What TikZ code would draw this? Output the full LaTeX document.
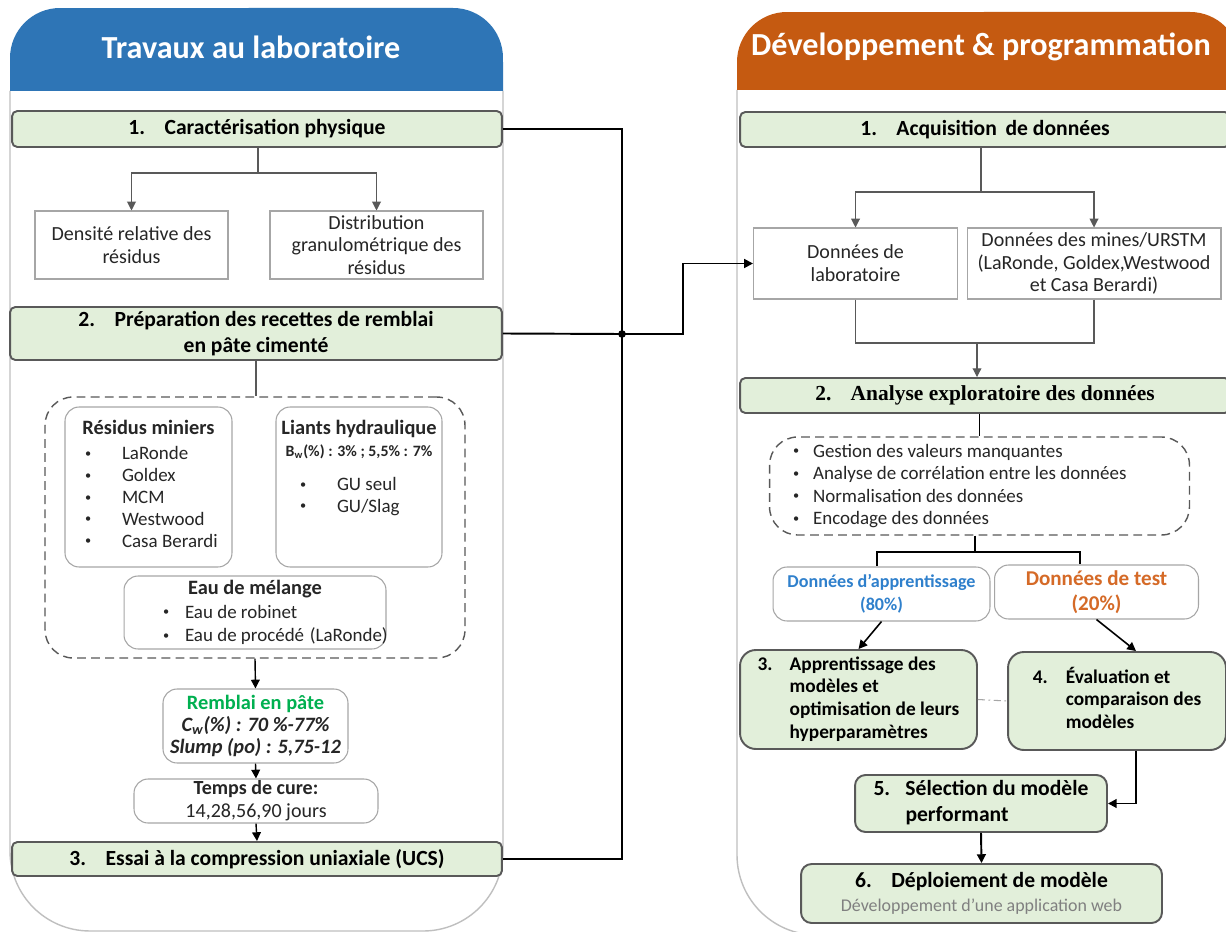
\documentclass[tikz,border=0pt]{standalone}
\usepackage{fontspec}
\setmainfont{Carlito}
\newfontfamily\timesfont{Liberation Serif}
\usetikzlibrary{positioning}
\usetikzlibrary{arrows.meta}
\definecolor{hblue}{HTML}{2E75B6}
\definecolor{horange}{HTML}{C55A11}
\definecolor{stepfill}{HTML}{E2EFDA}
\definecolor{stepline}{HTML}{595959}
\definecolor{boxline}{HTML}{A6A6A6}
\definecolor{panelline}{HTML}{BFBFBF}
\definecolor{txt}{HTML}{262626}
\definecolor{rgreen}{HTML}{00B050}
\definecolor{tblue}{HTML}{2F80CC}
\definecolor{torange}{HTML}{D56A27}
\newcommand{\mybullet}[1]{\makebox[#1][l]{\raisebox{0.25ex}{\fontsize{7}{7}\selectfont\textbullet}}}
\tikzset{
    mytitle/.style = {text=white, font=\fontsize{18.3}{22}\selectfont\bfseries},
    mystep/.style = {rectangle, rounded corners=3pt, line width=1.1pt, draw=stepline, fill=stepfill, align=center, font=\fontsize{12.3}{14.5}\selectfont\bfseries, text=black, inner sep=0pt},
    mybox/.style = {rectangle, draw=boxline, line width=0.6pt, fill=white, align=center, font=\fontsize{11.4}{13}\selectfont, text=txt, inner sep=0pt},
    myround/.style = {mybox, rounded corners=8pt},
    mydash/.style = {rectangle, rounded corners=16pt, dash pattern=on 5pt off 3pt, draw=stepline, line width=0.8pt, inner sep=0pt},
    edgen/.style = {-,line width=0.6pt,stepline},
    edgek/.style = {-,line width=1.1pt,black},
    edged/.style = {-,line width=0.6pt,boxline,dash pattern=on 4pt off 2pt on 1pt off 2pt}
}
\begin{document}
\begin{tikzpicture}[x=0.02cm, y=-0.02cm, >={Triangle[length=5pt,width=5pt]}]
\useasboundingbox (0,0) rectangle (1226,932);
\clip (0,0) rectangle (1226,932);
\fill[white] (0,0) rectangle (1226,932);

% panels
\draw[panelline, line width=0.8pt] (10,91) -- (10,851) arc[start angle=180, end angle=270, radius=1.6cm] -- (423,931) arc[start angle=270, end angle=360, radius=1.6cm] -- (503,91);
\fill[hblue] (10,91) -- (10,58) arc[start angle=180, end angle=90, radius=1cm] -- (453,8) arc[start angle=90, end angle=0, radius=1cm] -- (503,91) -- cycle;
\node[mytitle] (ltitle) at (251,47) {Travaux au laboratoire};

\draw[panelline, line width=0.8pt] (737,90) -- (737,855) arc[start angle=180, end angle=270, radius=1.6cm] -- (1240,935);
\fill[horange] (737,90) -- (737,62) arc[start angle=180, end angle=90, radius=1cm] -- (1190,12) arc[start angle=90, end angle=0, radius=1cm] -- (1240,90) -- cycle;
\node[mytitle] (rtitle) at (981,47) {Développement \& programmation};

% left: laboratoire
\node[mystep, minimum width=9.8cm, minimum height=0.72cm] (lstepA) at (257,129) {1.\hspace{0.9em}Caractérisation physique};
\node[mybox, minimum width=3.86cm, minimum height=1.36cm] (ldens) at (131.5,245) {Densité relative des\\résidus};
\node[mybox, minimum width=4.26cm, minimum height=1.36cm] (ldist) at (376.5,245) {Distribution\\granulométrique des\\résidus};
\node[mystep, minimum width=9.84cm, minimum height=1.06cm] (lstepB) at (256,333.5) {2.\hspace{0.9em}Préparation des recettes de remblai\\en pâte cimenté};
\node[mydash, minimum width=8.4cm, minimum height=5.22cm] (ldash) at (255,527.5) {};
\node[myround, minimum width=3.34cm, minimum height=3.2cm] (lres) at (148.5,487) {%
  \begin{minipage}[c][2.95cm][t]{3cm}\fontsize{10.8}{12.4}\selectfont
  \vspace*{4pt}
  \centering{\fontsize{11.6}{13}\selectfont\bfseries Résidus miniers}\par\vspace{2pt}
  \raggedright
  \hspace*{0.23cm}\mybullet{0.74cm}LaRonde\par
  \hspace*{0.23cm}\mybullet{0.74cm}Goldex\par
  \hspace*{0.23cm}\mybullet{0.74cm}MCM\par
  \hspace*{0.23cm}\mybullet{0.74cm}Westwood\par
  \hspace*{0.23cm}\mybullet{0.74cm}Casa Berardi\par
  \end{minipage}};
\node[myround, minimum width=3.32cm, minimum height=3.2cm] (lliant) at (359,487) {%
  \begin{minipage}[c][2.95cm][t]{3.2cm}\fontsize{10.8}{12.4}\selectfont
  \vspace*{4pt}
  \centering{\fontsize{11.6}{13}\selectfont\bfseries Liants hydraulique}\par
  {\fontsize{9}{11}\selectfont\bfseries B\textsubscript{w}(\%) : 3\% ; 5,5\% : 7\%}\par\vspace{7pt}
  \raggedright
  \hspace*{0.42cm}\mybullet{0.74cm}GU seul\par
  \hspace*{0.42cm}\mybullet{0.74cm}GU/Slag\par
  \end{minipage}};
\node[myround, minimum width=5.24cm, minimum height=1.46cm] (leau) at (255,612.5) {%
  \begin{minipage}{5.2cm}\fontsize{10.8}{13.4}\selectfont
  \centering{\fontsize{11.6}{13}\selectfont\bfseries Eau de mélange}\par
  \raggedright
  \mbox{\hspace*{0.76cm}\mybullet{0.44cm}Eau de robinet}\par
  \mbox{\hspace*{0.76cm}\mybullet{0.44cm}Eau de procédé\hspace{0.3em}(LaRonde)}\par
  \end{minipage}};
\node[myround, minimum width=3.7cm, minimum height=1.48cm, font=\fontsize{11.6}{12.5}\selectfont\bfseries] (lremb) at (255.5,726) {%
  \textcolor{rgreen}{Remblai en pâte}\\
  \textit{C\textsubscript{w}(\%) : 70 \%-77\%}\\
  \textit{Slump (po) : 5,75-12}};
\node[myround, minimum width=4.88cm, minimum height=0.88cm] (ltemps) at (256,801) {%
  \textbf{Temps de cure:}\\14,28,56,90 jours};
\node[mystep, minimum width=9.8cm, minimum height=0.68cm] (lstepC) at (257,859) {3.\hspace{0.9em}Essai à la compression uniaxiale (UCS)};

\coordinate (lj1) at (258,173);
\draw[edgen] (lstepA.south -| lj1) -- (lj1);
\draw[edgen,->] (lj1) -| (ldens.north);
\draw[edgen,->] (lj1) -| (ldist.north);
\draw[edgen, line width=0.8pt] (lstepB.south) -- (lstepB.south |- ldash.north);
\draw[edgek, line width=0.8pt, ->] (ldash.south) -- (lremb.north);
\draw[edgek, line width=0.8pt, ->] (lremb.south) -- (ltemps.north);
\draw[edgek, line width=0.8pt, ->] (ltemps.south) -- (lstepC.north);

% right: programmation
\node[mystep, minimum width=9.8cm, minimum height=0.7cm] (rstepA) at (985,129.5) {1.\hspace{0.9em}Acquisition\hspace{0.4em}de données};
\node[mybox, minimum width=4.08cm, minimum height=1.42cm] (rlab) at (855.5,263.5) {Données de\\laboratoire};
\node[mybox, minimum width=5.08cm, minimum height=1.42cm] (rmine) at (1094,263.5) {Données des mines/URSTM\\(LaRonde, Goldex,Westwood\\et Casa Berardi)};
\node[mystep, minimum width=9.8cm, minimum height=0.7cm, font=\timesfont\fontsize{12.2}{14}\selectfont\bfseries] (rstepB) at (985,395.5) {2.\hspace{0.9em}Analyse exploratoire des données};
\node[mydash, minimum width=8.4cm, minimum height=1.96cm] (rdash) at (979.5,486) {%
  \begin{minipage}{8cm}\fontsize{10.8}{12.8}\selectfont\color{txt}
  \hspace*{0.27cm}\mybullet{0.4cm}Gestion des valeurs manquantes\par
  \hspace*{0.27cm}\mybullet{0.4cm}Analyse de corrélation entre les données\par
  \hspace*{0.27cm}\mybullet{0.4cm}Normalisation des données\par
  \hspace*{0.27cm}\mybullet{0.4cm}Encodage des données\par
  \end{minipage}};
\node[myround, minimum width=4.34cm, minimum height=1.08cm, font=\fontsize{10.3}{13}\selectfont\bfseries, text=tblue] (rtrain) at (881.5,594) {Données d’apprentissage\\(80\%)};
\node[myround, minimum width=4.08cm, minimum height=1.08cm, font=\fontsize{12}{14}\selectfont\bfseries, text=torange] (rtest) at (1096.5,592) {Données de test\\(20\%)};
\node[mystep, rounded corners=9pt, minimum width=4.74cm, minimum height=1.98cm, font=\fontsize{11}{12.9}\selectfont\bfseries] (rmod3) at (858.5,699.5) {%
  \begin{tabular}{@{}p{0.64cm}@{}l@{}}3. & Apprentissage des\\ & modèles et\\ & optimisation de leurs\\ & hyperparamètres\end{tabular}};
\node[mystep, rounded corners=9pt, minimum width=4.36cm, minimum height=1.96cm, font=\fontsize{11}{12.9}\selectfont\bfseries] (rmod4) at (1117,701) {%
  \begin{tabular}{@{}p{0.66cm}@{}l@{}}4. & Évaluation et\\ & comparaison des\\ & modèles\end{tabular}};
\node[mystep, rounded corners=6pt, minimum width=5.04cm, minimum height=1.14cm] (rsel) at (981,803.5) {%
  \begin{tabular}{@{}p{0.64cm}@{}l@{}}5. & Sélection du modèle\\ & performant\end{tabular}};
\node[mystep, rounded corners=6pt, minimum width=7.22cm, minimum height=1.18cm] (rdep) at (981.5,893.5) {%
  6.\hspace{0.9em}Déploiement de modèle\\[-1pt]
  {\mdseries\fontsize{10.2}{12}\selectfont\color{gray}Développement d’une application web}};

\coordinate (rj1) at (981,192);
\draw[edgen] (rstepA.south -| rj1) -- (rj1);
\draw[edgen,->] (rj1) -| (rlab.north);
\draw[edgen,->] (rj1) -| (rmine.north);
\coordinate (rj2) at (977,343);
\draw[edgen] (rlab.south) |- (rj2);
\draw[edgen] (rmine.south) |- (rj2);
\draw[edgen,->] (rj2) -- (rj2 |- rstepB.north);
\draw[edgek] (rstepB.south -| rdash.north) -- (rdash.north);
\coordinate (rj3) at (975,552);
\draw[edgek] (rdash.south -| rj3) -- (rj3);
\draw[edgek] (rj3) -| ([xshift=-0.09cm]rtrain.north);
\draw[edgek] (rj3) -| ([xshift=-0.33cm]rtest.north);
\draw[edgek, line width=0.9pt, ->] (rtrain.south) -- (rmod3.north);
\draw[edgek, line width=0.9pt, ->] (rtest.south) -- ([xshift=0.38cm]rmod4.north);
\draw[edged] (rmod3.east) -- (rmod4.west);
\draw[edgek, ->] ([xshift=0.38cm]rmod4.south) |- (rsel.east);
\draw[edgek, ->] (rsel.south) -- (rdep.north);

% links between the two panels
\coordinate (lbus) at (622,334);
\coordinate (rbus) at (683,334);
\draw[edgek] (lstepA.east) -| (lbus) |- (lstepC.east);
\draw[edgek] (lstepB.east) -- (lbus);
\fill (lbus) circle[radius=2.2pt];
\draw[edgek, ->] (lbus) -- (rbus) |- (rlab.west);
\end{tikzpicture}
\end{document}
